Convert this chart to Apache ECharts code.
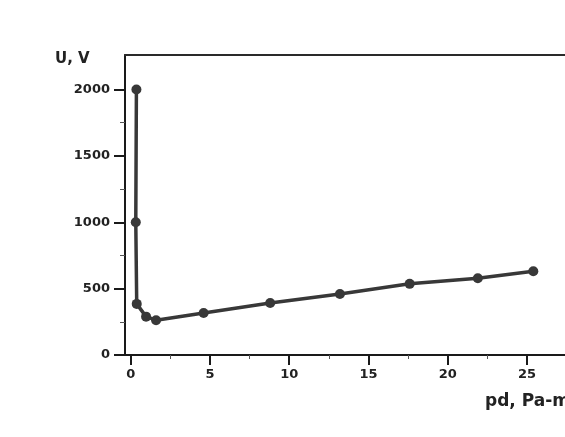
<!DOCTYPE html>
<html><head><meta charset="utf-8">
<script src="https://cdn.jsdelivr.net/npm/echarts@6/dist/echarts.min.js"></script>
<style>html,body{margin:0;padding:0;background:#fff}#c{width:565px;height:437px}</style>
</head><body><div id="c"></div>
<script>
const pd = [0.36, 0.32, 0.38, 0.97, 1.6, 4.6, 8.8, 13.2, 17.6, 21.9, 25.4];
const U = [2000, 1000, 385, 289, 262, 317, 392, 460, 536, 578, 631];
const xTicks = [0, 5, 10, 15, 20, 25];
const xMinor = [2.5, 7.5, 12.5, 17.5, 22.5];
const yTicks = [0, 500, 1000, 1500, 2000];
const yMinor = [250, 750, 1250, 1750];
const xName = 'pd, Pa-m';
const yName = 'U, V';

const font = 'DejaVu Sans';
const axisCol = '#1a1a1a';
const plain = v => String(v);
const chart = echarts.init(document.getElementById('c'));
const common = {min: -0.36, max: 27.4, type: 'value', splitLine: {show: false}};
chart.setOption({
  animation: false,
  backgroundColor: '#fff',
  grid: {left: 125, right: 0, top: 55, bottom: 82, containLabel: false},
  xAxis: [
    Object.assign({}, common, {
      position: 'bottom',
      axisLine: {show: true, onZero: false, lineStyle: {color: axisCol, width: 2}},
      axisTick: {show: true, customValues: xTicks, length: 10, lineStyle: {color: axisCol, width: 2}},
      axisLabel: {show: true, customValues: xTicks, formatter: plain, margin: 13, color: '#222', fontFamily: font, fontWeight: 'bold', fontSize: 13}
    }),
    Object.assign({}, common, {
      position: 'bottom',
      axisLine: {show: false},
      axisTick: {show: true, inside: false, customValues: xMinor, length: 4, lineStyle: {color: '#555', width: 1}},
      axisLabel: {show: false}
    }),
    Object.assign({}, common, {
      position: 'top',
      axisLine: {show: true, onZero: false, lineStyle: {color: '#2a2a2a', width: 2}},
      axisTick: {show: false},
      axisLabel: {show: false}
    })
  ],
  yAxis: [
    {
      type: 'value', min: 0, max: 2260, position: 'left', splitLine: {show: false},
      axisLine: {show: true, onZero: false, lineStyle: {color: axisCol, width: 2}},
      axisTick: {show: true, customValues: yTicks, length: 11, lineStyle: {color: axisCol, width: 2}},
      axisLabel: {show: true, customValues: yTicks, formatter: plain, margin: 15, color: '#222', fontFamily: font, fontWeight: 'bold', fontSize: 13}
    },
    {
      type: 'value', min: 0, max: 2260, position: 'left', offset: 0, splitLine: {show: false},
      axisLine: {show: false, onZero: false},
      axisTick: {show: true, inside: false, customValues: yMinor, length: 5, lineStyle: {color: '#555', width: 1}},
      axisLabel: {show: false}
    }
  ],
  graphic: [
    {type: 'text', left: 55, top: 52, style: {text: yName, fill: '#222', font: 'bold 15px "DejaVu Sans"'}},
    {type: 'text', left: 485, top: 393, style: {text: xName, fill: '#222', font: 'bold 17px "DejaVu Sans"'}}
  ],
  series: [{
    type: 'line',
    xAxisIndex: 0, yAxisIndex: 0,
    data: pd.map((x, i) => [x, U[i]]),
    symbol: 'circle', symbolSize: 10,
    lineStyle: {color: '#383838', width: 3.5},
    itemStyle: {color: '#383838'}
  }]
});
</script></body></html>
